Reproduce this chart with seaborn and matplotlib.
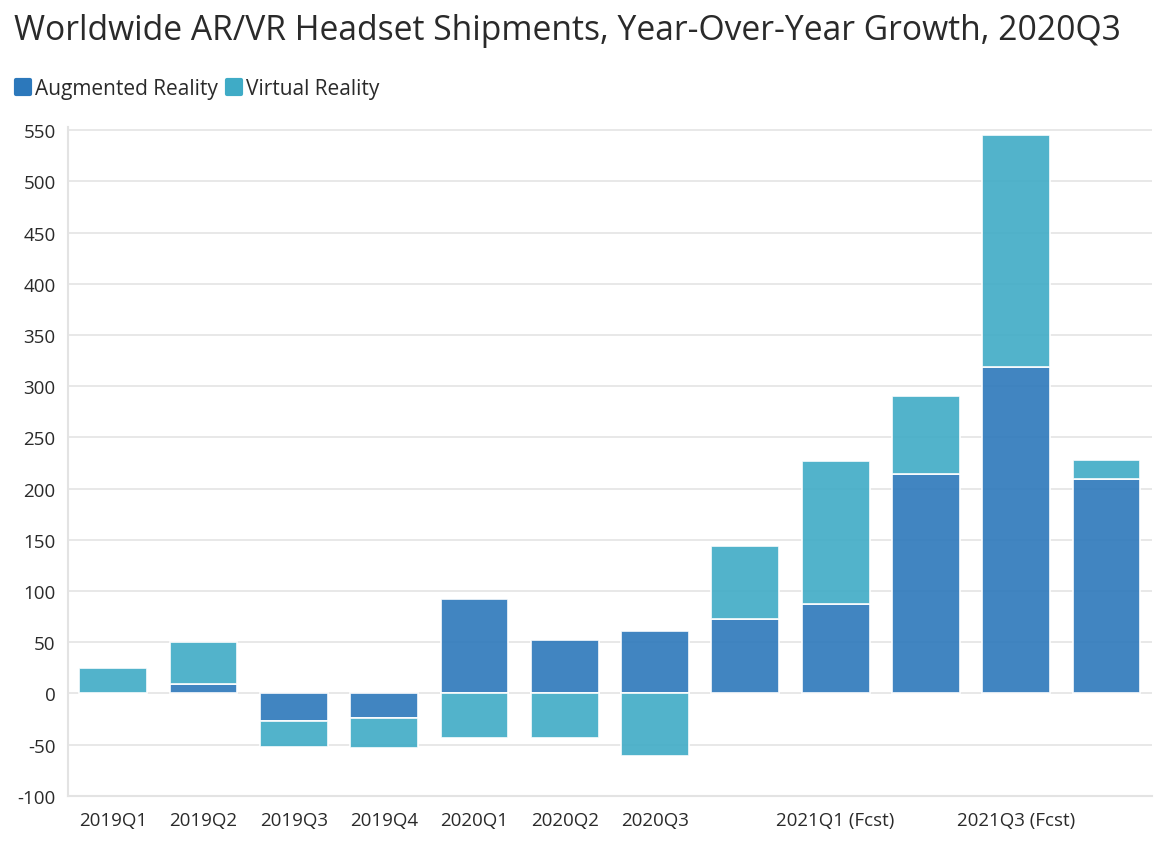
#!/usr/bin/env python3
"""
Worldwide AR/VR headset shipments, year-over-year growth (2020Q3)
Relative stacked bars: positives stack up, negatives stack down
"""

import numpy as np
import pandas as pd
import matplotlib.pyplot as plt
from matplotlib.lines import Line2D
from matplotlib.markers import MarkerStyle
import seaborn as sns

# Data (YoY growth, %)
quarters = ['2019Q1', '2019Q2', '2019Q3', '2019Q4', '2020Q1', '2020Q2', '2020Q3',
            '2020Q4 (Fcst)', '2021Q1 (Fcst)', '2021Q2 (Fcst)', '2021Q3 (Fcst)', '2021Q4 (Fcst)']
ar_growth = [0, 9, -27, -24, 92, 52, 61, 73, 87, 214, 319, 209]
vr_growth = [25, 41, -25, -29, -44, -44, -61, 71, 140, 76, 226, 19]
# labels that the original chart actually shows (others dropped for overlap)
shown_labels = ['2019Q1', '2019Q2', '2019Q3', '2019Q4', '2020Q1', '2020Q2', '2020Q3',
                '', '2021Q1 (Fcst)', '', '2021Q3 (Fcst)', '']
y_ticks = list(range(-100, 551, 50))

AR_COLOR = '#2C78BB'
VR_COLOR = '#3FABC6'
TEXT = '#2a2a2a'


def main():
    sns.set_theme(style='white')
    plt.rcParams['font.family'] = ['Open Sans', 'DejaVu Sans']

    df = pd.DataFrame({'quarter': quarters, 'ar': ar_growth, 'vr': vr_growth})
    ar = df['ar'].to_numpy()
    vr = df['vr'].to_numpy()
    # VR stacks on AR only when both go the same direction
    vr_bottom = np.where(np.sign(vr) == np.sign(ar), ar, 0)

    fig = plt.figure(figsize=(11.54, 8.54), dpi=100)
    ax = fig.add_axes([0.059, 0.067, 0.939, 0.783])

    bar_kws = dict(width=0.75, edgecolor='white', linewidth=1.3, alpha=0.9)
    sns.barplot(data=df, x='quarter', y='ar', color=AR_COLOR, saturation=1,
                ax=ax, **bar_kws)
    sns.barplot(data=df, x='quarter', y='vr', color=VR_COLOR, saturation=1,
                bottom=vr_bottom, ax=ax, **bar_kws)

    ax.set_xlim(-0.5, len(quarters) - 0.5)
    ax.set_ylim(-100, 553)
    ax.set_yticks(y_ticks)
    ax.set_yticklabels([str(v) for v in y_ticks], fontsize=13.5, color=TEXT)
    ax.set_xticks(range(len(quarters)))
    ax.set_xticklabels(shown_labels, fontsize=13.5, color=TEXT)
    ax.set_xlabel('')
    ax.set_ylabel('')

    ax.grid(axis='y', color='#e8e8e8', linewidth=1.4)
    ax.set_axisbelow(True)
    for side in ['top', 'right']:
        ax.spines[side].set_visible(False)
    for side in ['left', 'bottom']:
        ax.spines[side].set_color('#e3e3e3')
        ax.spines[side].set_linewidth(1.5)
    ax.tick_params(axis='x', length=8, width=1.5, color='#e3e3e3', pad=3)
    ax.tick_params(axis='y', length=6, width=1.5, color='#e3e3e3', pad=3)

    fig.text(0.012, 0.964, 'Worldwide AR/VR Headset Shipments, Year-Over-Year Growth, 2020Q3',
             fontsize=24.2, color=TEXT, va='center', ha='left')

    rounded_square = MarkerStyle('s', joinstyle='round')
    handles = [Line2D([0], [0], marker=rounded_square, linestyle='', markersize=10,
                      markerfacecolor=c, markeredgecolor=c, markeredgewidth=3)
               for c in (AR_COLOR, VR_COLOR)]
    fig.legend(handles, ['Augmented Reality', 'Virtual Reality'],
               loc='center left', bbox_to_anchor=(-0.001, 0.895), ncol=2,
               frameon=False, fontsize=15, handletextpad=0.15, columnspacing=0.3,
               handlelength=0.9, labelcolor=TEXT, borderpad=0.2)

    fig.savefig('out.png', dpi=100)
    plt.close(fig)


if __name__ == '__main__':
    main()
